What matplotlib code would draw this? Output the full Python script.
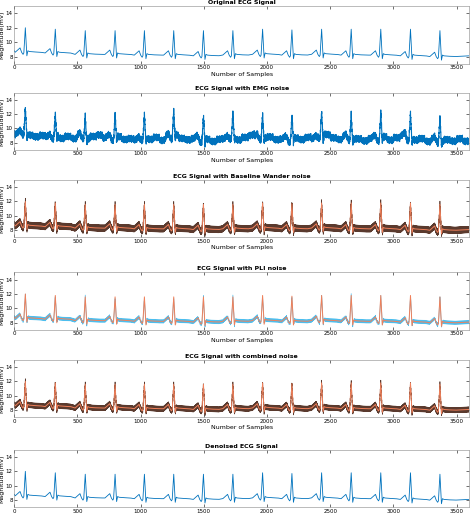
import numpy as np
import matplotlib.pyplot as plt

# R-peak positions and heights
peaks = [88, 325, 562, 798, 1030, 1262, 1497, 1730, 1965, 2197, 2432, 2666, 2900, 3135, 3368]
peak_h = [12.0, 11.8, 11.6, 11.6, 11.6, 11.6, 11.6, 11.6, 11.8, 11.7, 11.8, 11.8, 11.8, 11.8, 11.6]
base_lvl = [8.6, 8.5, 8.3, 8.3, 8.2, 8.2, 8.1, 8.2, 8.3, 8.2, 8.3, 8.2, 8.2, 8.1, 8.0]
# beat shape keypoints: offset from R peak, value relative to baseline
beat_off = [-80, -55, -42, -30, -18, -12, 0, 12, 20, 30, 60, 120]
beat_rel = [0.0, 0.4, 0.6, 0.0, -0.3, -0.1, None, -0.5, 0.2, 0.1, 0.05, 0.0]

# short noise patterns (tiled along the record)
emg_pat = [0.5, -0.3, 0.8, 0.1, -0.6, 0.4, 0.9, -0.2, 0.3, -0.7, 0.6, 0.2, -0.4, 0.7, -0.1, 0.5, -0.5, 0.1, 0.8, -0.3]
emg_slow = [0.6, 0.9, 0.4, 0.2, 0.5, 0.1, 0.3, 0.0, 0.4, 0.2, 0.6, 0.1]
bw_pat = [0.45, -0.45, 0.40, -0.40]
pli_pat = [0.0, 0.18, 0.25, 0.18, 0.0, -0.18, -0.25, -0.18]

titles = ['Original ECG Signal', 'ECG Signal with EMG noise', 'ECG Signal with Baseline Wander noise',
          'ECG Signal with PLI noise', 'ECG Signal with combined noise', 'Denoised ECG Signal']

N = 3600
kx, ky = [0, 40], [8.8, 9.1]
for p, h, b in zip(peaks, peak_h, base_lvl):
    for o, r in zip(beat_off, beat_rel):
        kx.append(p + o)
        ky.append(h if r is None else b + r)
kx.append(N); ky.append(8.1)
kx = np.array(kx); ky = np.array(ky)
order = np.argsort(kx, kind='stable')
kx, ky = kx[order], ky[order]

n = np.arange(N)
clean = np.interp(n, kx, ky)
emg = np.resize(emg_pat, N) * 0.6 + np.repeat(np.resize(emg_slow, N // 50 + 1), 50)[:N] * 0.8
bw = np.resize(bw_pat, N)
pli = np.resize(pli_pat, N)

blue = '#0072BD'
light = '#4DBEEE'
orange = '#F0805A'
dark = '#5a3a2e'

tops = [0.012, 0.18, 0.35, 0.53, 0.70, 0.875]
h = 0.112
fig = plt.figure(figsize=(4.74, 5.14), dpi=100)
for i, t in enumerate(titles):
    ax = fig.add_axes([0.03, 1 - tops[i] - h, 0.96, h])
    if i == 0 or i == 5:
        ax.plot(n, clean, color=blue, lw=0.6)
    elif i == 1:
        ax.plot(n, clean + emg, color=blue, lw=0.8)
    elif i == 2:
        ax.plot(n, clean + bw, color=dark, lw=0.5)
        ax.plot(n, clean, color=orange, lw=0.7)
    elif i == 3:
        ax.plot(n, clean + pli, color=light, lw=0.5)
        ax.plot(n, clean, color=orange, lw=0.7)
    else:
        ax.plot(n, clean + bw * 0.8, color=dark, lw=0.5)
        ax.plot(n, clean, color=orange, lw=0.7)
    ax.set_xlim(0, 3600)
    ax.set_ylim(7, 15)
    ax.set_yticks([8, 10, 12, 14])
    ax.set_xticks(range(0, 3600, 500))
    ax.tick_params(labelsize=4, length=2, width=0.4, pad=1, top=True, right=True, direction='in')
    for s in ax.spines.values():
        s.set_linewidth(0.4)
        s.set_color('#888888')
    ax.set_title(t, fontsize=4.5, fontweight='bold', pad=1.5)
    ax.set_xlabel('Number of Samples', fontsize=4.5, labelpad=1)
    ax.set_ylabel('Magnitude(mV)', fontsize=4.5, labelpad=1)

fig.savefig('out.png', dpi=100)
